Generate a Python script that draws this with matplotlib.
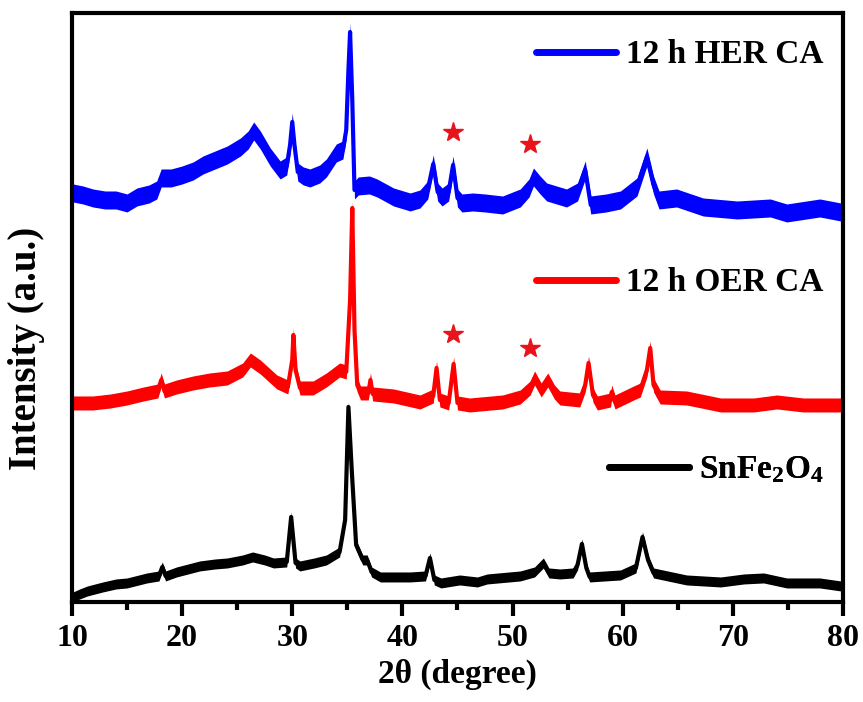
import numpy as np
import matplotlib.pyplot as plt
from matplotlib.lines import Line2D

plt.rcParams['font.family'] = 'Liberation Serif'
plt.rcParams['font.weight'] = 'bold'
plt.rcParams['mathtext.fontset'] = 'custom'
plt.rcParams['mathtext.rm'] = 'Liberation Serif:bold'
plt.rcParams['mathtext.bf'] = 'Liberation Serif:bold'
plt.rcParams['mathtext.default'] = 'rm'

# --- XRD patterns (intensity in a.u., before stacking) ---
her_x = [10.1, 11.0, 11.9, 13.0, 14.0, 15.0, 15.9, 17.0, 17.7, 18.1, 19.0, 20.0, 21.0, 21.9,
         23.0, 24.1, 25.3, 26.0, 26.5, 27.1, 28.0, 28.9, 29.5, 29.8, 30.0, 30.2, 30.5, 31.0,
         31.6, 32.5, 33.1, 34.0, 34.6, 34.9, 35.1, 35.25, 35.45, 35.65, 36.0, 37.0, 37.7, 39.2,
         40.7, 41.6, 42.3, 42.8, 43.2, 43.6, 44.2, 44.6, 45.0, 45.4, 46.4, 47.5, 49.1, 50.7,
         51.5, 51.9, 52.5, 53.1, 54.9, 55.9, 56.6, 57.1, 58.5, 59.8, 61.3, 62.2, 62.8, 63.3,
         64.9, 67.3, 70.4, 73.4, 74.9, 77.9, 79.8]
her_y = [19, 17, 14, 12, 12, 9, 15, 18, 22, 34, 34, 37, 41, 47,
         52, 57, 65, 72, 81, 72, 55, 42, 46, 67, 90, 67, 40, 36,
         34, 38, 44, 59, 62, 82, 142, 180, 112, 22, 26, 27, 24, 15,
         10, 13, 22, 48, 20, 15, 20, 47, 14, 9, 10, 9, 7, 14,
         24, 35, 27, 20, 14, 20, 42, 7, 9, 12, 25, 55, 27, 12,
         14, 5, 2, 4, -1, 4, 0]

oer_x = [10.1, 11.9, 13.5, 15.0, 16.5, 17.8, 18.1, 18.4, 19.5, 21.0, 22.5, 24.1, 25.5, 26.2,
         27.1, 28.0, 28.6, 29.6, 30.0, 30.1, 30.3, 30.7, 31.9, 33.1, 34.3, 34.9, 35.25, 35.45,
         35.65, 35.9, 36.2, 36.9, 37.1, 37.3, 39.2, 41.6, 42.8, 43.1, 43.4, 44.2, 44.65, 45.0,
         46.1, 49.1, 50.7, 51.6, 52.0, 52.6, 53.2, 53.8, 54.3, 56.1, 56.6, 56.9, 57.3, 57.7,
         58.9, 59.0, 59.3, 61.0, 61.6, 62.2, 62.5, 62.8, 63.4, 65.8, 68.9, 71.9, 74.0, 76.4, 79.8]
oer_y = [9, 9, 11, 14, 18, 21, 32, 21, 25, 29, 32, 34, 42, 52,
         45, 36, 30, 25, 52, 77, 42, 24, 24, 32, 42, 40, 112, 204,
         82, 27, 19, 19, 32, 18, 16, 10, 16, 44, 12, 9, 48, 9,
         7, 10, 15, 24, 34, 22, 32, 20, 14, 12, 27, 49, 17, 9,
         12, 20, 10, 19, 22, 42, 64, 27, 15, 14, 7, 7, 10, 7, 7]

snfe_x = [10.1, 10.7, 11.4, 12.8, 14.0, 15.0, 16.8, 17.9, 18.2, 18.5, 19.5, 21.6, 23.0, 24.1,
          25.5, 26.4, 27.5, 28.3, 29.5, 29.9, 30.3, 30.7, 32.0, 33.1, 34.3, 34.8, 35.1, 35.4,
          35.8, 36.4, 36.8, 37.2, 38.0, 40.7, 42.1, 42.5, 42.9, 43.5, 45.2, 46.8, 47.7, 50.7,
          52.0, 52.8, 53.3, 54.3, 55.5, 55.9, 56.3, 56.7, 57.0, 59.8, 61.2, 61.8, 62.3, 62.8,
          65.8, 68.9, 71.0, 72.8, 74.9, 77.9, 79.8]
snfe_y = [5, 8, 11, 15, 18, 19, 24, 26, 35, 26, 30, 36, 38, 39,
          42, 45, 42, 39, 40, 85, 39, 36, 39, 42, 50, 82, 195, 132,
          57, 42, 42, 30, 25, 25, 26, 44, 22, 19, 22, 20, 23, 26,
          30, 39, 29, 28, 29, 37, 58, 34, 25, 27, 34, 65, 42, 29,
          22, 20, 23, 24, 19, 19, 16]

labels = ['12 h HER CA', '12 h OER CA', 'SnFe$_2$O$_4$']
star_x = [44.6, 51.6]   # extra reflections marked with stars

fig = plt.figure(figsize=(8.63, 7.02), dpi=100)
ax = fig.add_axes([0.0834, 0.1425, 0.8934, 0.839])

# (x, y, vertical offset, colour, noise band half-width, legend y, star gap)
curves = [
    (her_x, her_y, 390, 'blue', 9, 0.929, 33),
    (oer_x, oer_y, 190, 'red', 7, 0.542, 30),
    (snfe_x, snfe_y, 0, 'black', 5, 0.224, None),
]

for (x, y, off, col, band, leg_y, gap), lab in zip(curves, labels):
    x = np.asarray(x, float)
    y = np.asarray(y, float) + off
    ax.fill_between(x, y - band, y + band, color=col, lw=0)
    ax.plot(x, y, color=col, lw=3, solid_joinstyle='round')
    leg = ax.legend([Line2D([], [], color=col, lw=5, solid_capstyle='round')], [lab],
                    loc='center right', bbox_to_anchor=(0.975, leg_y), frameon=False,
                    fontsize=24, handlelength=2.4, handletextpad=0.3,
                    borderpad=0, borderaxespad=0)
    ax.add_artist(leg)
    if gap is not None:
        sy = [y[(x > s - 0.5) & (x < s + 0.5)].max() + gap for s in star_x]
        ax.plot(star_x, sy, ls='none', marker='*', ms=15, color='#e8141c', mec='#e8141c')

ax.set_xlim(10, 80)
ax.set_ylim(0, 589)
ax.set_xticks(np.arange(10, 81, 10))
ax.set_xticks(np.arange(15, 80, 10), minor=True)
ax.set_yticks([])
ax.tick_params(axis='x', which='major', direction='out', length=10, width=3, pad=6, labelsize=23)
ax.tick_params(axis='x', which='minor', direction='out', length=5.5, width=3)
for s in ax.spines.values():
    s.set_linewidth(3)

ax.set_xlabel('2\u03b8 (degree)', fontsize=24, fontweight='bold', labelpad=4)
ax.set_ylabel('Intensity (a.u.)', fontsize=28, fontweight='bold')
ax.yaxis.set_label_coords(-0.035, 0.431)

fig.savefig('out.png', dpi=100)
